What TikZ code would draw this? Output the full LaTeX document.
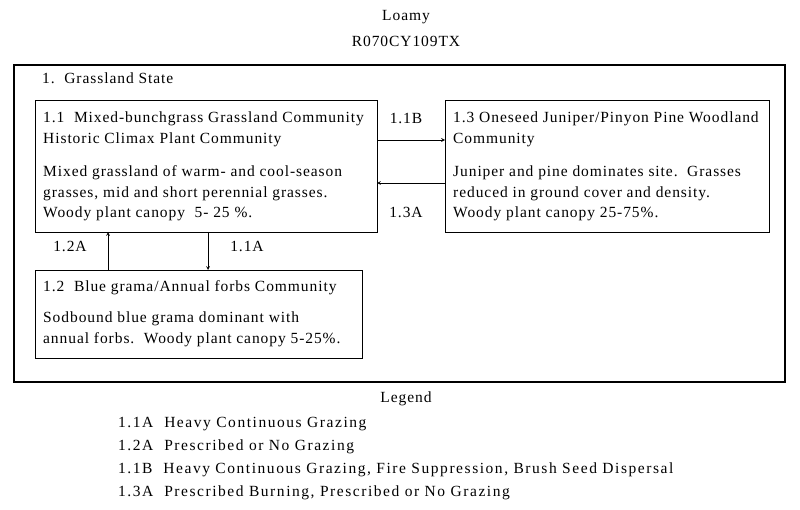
\documentclass[tikz,border=0pt]{standalone}
\usepackage{fontspec}
\setmainfont{Liberation Serif}
\newfontfamily\wideA[LetterSpace=6]{Liberation Serif}
\newfontfamily\wideB[LetterSpace=10]{Liberation Serif}
\begin{document}
\begin{tikzpicture}[x=1pt,y=-1pt,
  box/.style={draw,line width=0.9pt},
  txt/.style={anchor=north west,align=left,inner sep=0pt,font=\wideA\fontsize{15.5}{20.5}\selectfont},
  leg/.style={anchor=north west,align=left,inner sep=0pt,font=\wideB\fontsize{15.5}{23}\selectfont},
  lab/.style={inner sep=0pt,font=\wideA\fontsize{15.5}{16}\selectfont},
  arr/.style={-stealth,line width=0.7pt}]
\useasboundingbox (0,0) rectangle (800,510);
\node[lab] (t1) at (406,17) {Loamy};
\node[lab] (t2) at (406,41) {R070CY109TX};
\draw[line width=2.6pt] (14,65) rectangle (785,382);
\node[txt] (gs) at (42,73) {1.\ \ Grassland State};
\draw[box] (35,100) rectangle (377,232);
\draw[box] (445,100) rectangle (769,232);
\draw[box] (35,270) rectangle (362,358);
\node[txt] (n11) at (43,112) {1.1\ \ Mixed-bunchgrass Grassland Community\\Historic Climax Plant Community\\[13pt]Mixed grassland of warm- and cool-season\\grasses, mid and short perennial grasses.\\Woody plant canopy \ 5- 25 \%.};
\node[txt] (n13) at (453,112) {1.3 Oneseed Juniper/Pinyon Pine Woodland\\Community\\[13pt]Juniper and pine dominates site.\ \ Grasses\\reduced in ground cover and density.\\Woody plant canopy 25-75\%.};
\node[txt] (n12) at (43,280) {1.2\ \ Blue grama/Annual forbs Community\\[11pt]Sodbound blue grama dominant with\\annual forbs.\ \ Woody plant canopy 5-25\%.};
\coordinate (a1s) at (377,140); \coordinate (a1e) at (445,140);
\coordinate (a3s) at (445,183); \coordinate (a3e) at (377,183);
\coordinate (a2s) at (108,270); \coordinate (a2e) at (108,232);
\coordinate (a4s) at (208,232); \coordinate (a4e) at (208,270);
\draw[arr] (a1s) -- (a1e);
\draw[arr] (a3s) -- (a3e);
\draw[arr] (a2s) -- (a2e);
\draw[arr] (a4s) -- (a4e);
\node[lab] (l1) at (406,118) {1.1B};
\node[lab] (l2) at (406,212) {1.3A};
\node[lab] (l3) at (70,246) {1.2A};
\node[lab] (l4) at (247,246) {1.1A};
\node[lab] (lg) at (406,399) {Legend};
\node[leg] (lgt) at (118,417) {1.1A\ \ Heavy Continuous Grazing\\1.2A\ \ Prescribed or No Grazing\\1.1B\ \ Heavy Continuous Grazing, Fire Suppression, Brush Seed Dispersal\\1.3A\ \ Prescribed Burning, Prescribed or No Grazing};
\end{tikzpicture}
\end{document}
